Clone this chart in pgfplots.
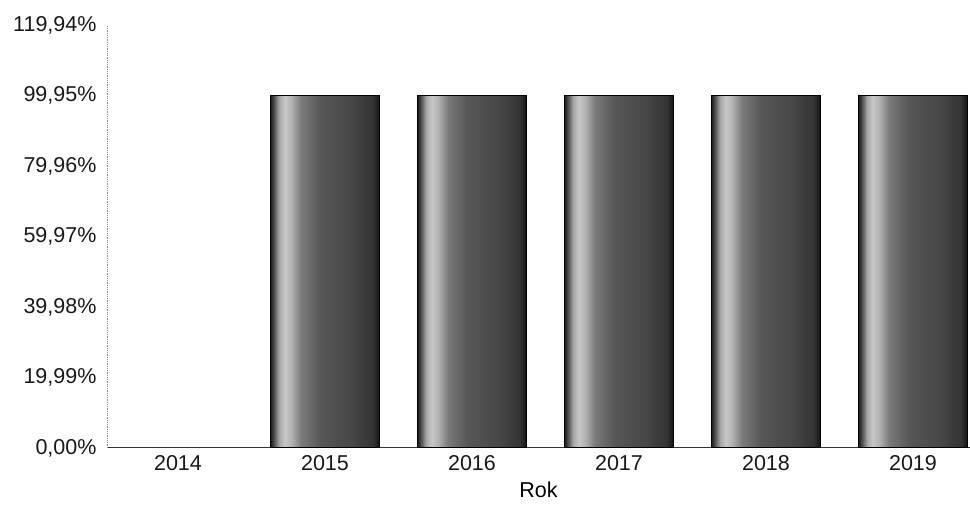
\documentclass[border=0pt]{standalone}
\usepackage{fontspec}
\setmainfont{Liberation Sans}
\usepackage{pgfplots}
\pgfplotsset{compat=1.18}
\pgfdeclarehorizontalshading{cyl}{100bp}{color(0bp)=(black!90); color(25bp)=(black!90); color(26.5bp)=(black!70); color(29bp)=(black!35); color(31.5bp)=(black!22); color(34.5bp)=(black!30); color(39bp)=(black!52); color(48bp)=(black!66); color(62bp)=(black!72); color(72bp)=(black!80); color(75bp)=(black!92); color(100bp)=(black!92)}
\pgfplotsset{cylbar/.style={ybar, bar width=109pt, bar shift=0pt, draw=black, line width=1pt, shading=cyl}}
\begin{document}
\begin{tikzpicture}
\path[use as bounding box] (-107pt,-74pt) rectangle (863pt,448pt);
\begin{axis}[
  scale only axis,
  width=863pt, height=423pt,
  xmin=-0.483, xmax=5.388,
  ymin=0, ymax=119.94,
  axis x line=bottom, axis y line=left,
  axis line style={-},
  x axis line style={draw=black!80, line width=1pt},
  y axis line style={draw=black!45, densely dotted, line width=0.8pt},
  xtick={0,1,2,3,4,5},
  xticklabels={2014,2015,2016,2017,2018,2019},
  ytick={0,19.99,39.98,59.97,79.96,99.95,119.94},
  yticklabels={{0,00\%},{19,99\%},{39,98\%},{59,97\%},{79,96\%},{99,95\%},{119,94\%}},
  major tick length=0pt,
  tick style={draw=none},
  ticklabel style={font=\fontsize{21.5}{23}\selectfont, text=black!90},
  yticklabel style={xshift=-7pt},
  xticklabel style={yshift=-4pt},
  xlabel={Rok},
  xlabel style={font=\fontsize{21.5}{23}\selectfont, yshift=-4pt},
  clip=false,
]
\addplot[cylbar] coordinates {(1,99.95)};
\addplot[cylbar] coordinates {(2,99.95)};
\addplot[cylbar] coordinates {(3,99.95)};
\addplot[cylbar] coordinates {(4,99.95)};
\addplot[cylbar] coordinates {(5,99.95)};
\end{axis}
\end{tikzpicture}
\end{document}
